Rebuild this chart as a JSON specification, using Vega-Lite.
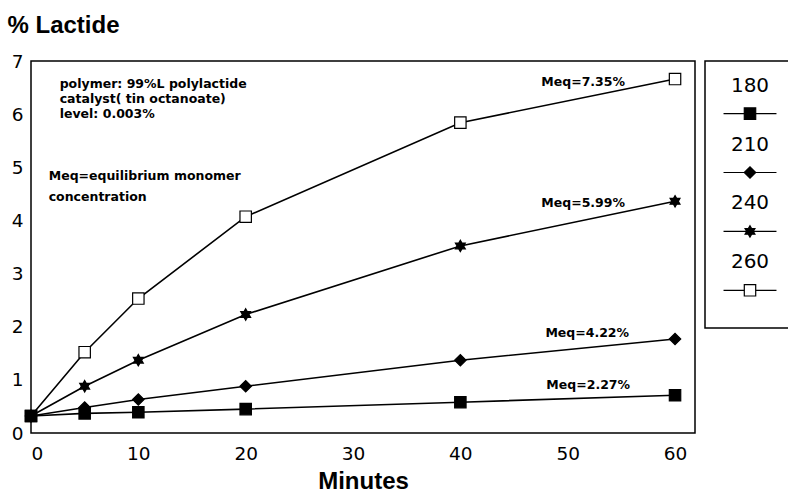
{
  "$schema": "https://vega.github.io/schema/vega-lite/v6.json",
  "background": "white",
  "autosize": {"type": "pad"},
  "padding": {"left": 6, "top": 12, "right": 0, "bottom": 0},
  "config": {
    "view": {"stroke": "black", "strokeWidth": 1.5},
    "axis": {"grid": false, "domain": false, "ticks": false, "labelFont": "DejaVu Sans", "labelFontSize": 18.5, "labelColor": "black", "titleColor": "black"}
  },
  "datasets": {
    "series": [
      {"series": "260", "minutes": 0, "lactide": 0.32},
      {"series": "260", "minutes": 5, "lactide": 1.52},
      {"series": "260", "minutes": 10, "lactide": 2.53},
      {"series": "260", "minutes": 20, "lactide": 4.07},
      {"series": "260", "minutes": 40, "lactide": 5.84},
      {"series": "260", "minutes": 60, "lactide": 6.66},
      {"series": "240", "minutes": 0, "lactide": 0.32},
      {"series": "240", "minutes": 5, "lactide": 0.88},
      {"series": "240", "minutes": 10, "lactide": 1.37},
      {"series": "240", "minutes": 20, "lactide": 2.23},
      {"series": "240", "minutes": 40, "lactide": 3.52},
      {"series": "240", "minutes": 60, "lactide": 4.36},
      {"series": "210", "minutes": 0, "lactide": 0.32},
      {"series": "210", "minutes": 5, "lactide": 0.48},
      {"series": "210", "minutes": 10, "lactide": 0.63},
      {"series": "210", "minutes": 20, "lactide": 0.88},
      {"series": "210", "minutes": 40, "lactide": 1.37},
      {"series": "210", "minutes": 60, "lactide": 1.77},
      {"series": "180", "minutes": 0, "lactide": 0.32},
      {"series": "180", "minutes": 5, "lactide": 0.37},
      {"series": "180", "minutes": 10, "lactide": 0.39},
      {"series": "180", "minutes": 20, "lactide": 0.45},
      {"series": "180", "minutes": 40, "lactide": 0.58},
      {"series": "180", "minutes": 60, "lactide": 0.71}
    ],
    "notes": [
      {"minutes": 2.67, "lactide": 6.575, "label": "polymer: 99%L polylactide"},
      {"minutes": 2.67, "lactide": 6.293, "label": "catalyst( tin octanoate)"},
      {"minutes": 2.67, "lactide": 6.011, "label": "level: 0.003%"},
      {"minutes": 1.65, "lactide": 4.831, "label": "Meq=equilibrium monomer"},
      {"minutes": 1.65, "lactide": 4.441, "label": "concentration"}
    ],
    "meq": [
      {"minutes": 55.34, "lactide": 6.605, "label": "Meq=7.35%"},
      {"minutes": 55.34, "lactide": 4.323, "label": "Meq=5.99%"},
      {"minutes": 55.72, "lactide": 1.886, "label": "Meq=4.22%"},
      {"minutes": 55.81, "lactide": 0.907, "label": "Meq=2.27%"}
    ],
    "legend": [
      {"series": "180", "order": 0},
      {"series": "210", "order": 1},
      {"series": "240", "order": 2},
      {"series": "260", "order": 3}
    ]
  },
  "spacing": 10,
  "bounds": "flush",
  "hconcat": [
    {
      "width": 664,
      "height": 372,
      "encoding": {
        "x": {
          "field": "minutes", "type": "quantitative",
          "scale": {"domain": [0, 61.86], "nice": false, "zero": false},
          "axis": {"values": [0, 10, 20, 30, 40, 50, 60], "labelPadding": 11, "title": "Minutes", "titleFont": "Liberation Sans", "titleFontSize": 24, "titleFontWeight": "bold", "titlePadding": 7}
        },
        "y": {
          "field": "lactide", "type": "quantitative",
          "scale": {"domain": [0, 7], "nice": false},
          "axis": {"values": [0, 1, 2, 3, 4, 5, 6, 7], "labelPadding": 8, "title": "% Lactide", "titleAngle": 0, "titleX": -24, "titleY": -28.7, "titleAlign": "left", "titleBaseline": "alphabetic", "titleFont": "Liberation Sans", "titleFontSize": 24, "titleFontWeight": "bold"}
        }
      },
      "layer": [
        {
          "data": {"name": "series"},
          "mark": {"type": "line", "color": "black", "strokeWidth": 1.6},
          "encoding": {"detail": {"field": "series", "type": "nominal"}}
        },
        {
          "data": {"name": "series"},
          "mark": {"type": "point", "filled": true, "stroke": "black", "strokeWidth": 1.2, "opacity": 1, "size": 130},
          "encoding": {
            "shape": {"field": "series", "type": "nominal", "scale": {"domain": ["180", "210", "240", "260"], "range": ["square", "diamond", "M0,-1L0.866,0.5L-0.866,0.5Z M0,1L-0.866,-0.5L0.866,-0.5Z", "square"]}, "legend": null},
            "fill": {"field": "series", "type": "nominal", "scale": {"domain": ["180", "210", "240", "260"], "range": ["black", "black", "black", "white"]}, "legend": null}
          }
        },
        {
          "data": {"name": "notes"},
          "mark": {"type": "text", "align": "left", "baseline": "middle", "font": "DejaVu Sans", "fontWeight": "bold", "fontSize": 12.5, "color": "black"},
          "encoding": {"text": {"field": "label"}}
        },
        {
          "data": {"name": "meq"},
          "mark": {"type": "text", "align": "right", "baseline": "middle", "font": "DejaVu Sans", "fontWeight": "bold", "fontSize": 12.5, "color": "black"},
          "encoding": {"text": {"field": "label"}}
        }
      ]
    },
    {
      "width": 90,
      "height": 267,
      "data": {"name": "legend"},
      "encoding": {
        "y": {"field": "order", "type": "quantitative", "scale": {"domain": [-0.893, 3.64], "reverse": true, "nice": false, "zero": false}, "axis": null}
      },
      "layer": [
        {
          "mark": {"type": "rule", "color": "black", "strokeWidth": 1.2},
          "encoding": {
            "x": {"datum": -1, "type": "quantitative", "scale": {"domain": [-1.7, 1.7], "nice": false, "zero": false}, "axis": null},
            "x2": {"datum": 1}
          }
        },
        {
          "mark": {"type": "point", "filled": true, "stroke": "black", "strokeWidth": 1.2, "opacity": 1, "size": 130},
          "encoding": {
            "x": {"datum": 0, "type": "quantitative"},
            "shape": {"field": "series", "type": "nominal", "scale": {"domain": ["180", "210", "240", "260"], "range": ["square", "diamond", "M0,-1L0.866,0.5L-0.866,0.5Z M0,1L-0.866,-0.5L0.866,-0.5Z", "square"]}, "legend": null},
            "fill": {"field": "series", "type": "nominal", "scale": {"domain": ["180", "210", "240", "260"], "range": ["black", "black", "black", "white"]}, "legend": null}
          }
        },
        {
          "mark": {"type": "text", "dy": -28, "baseline": "middle", "align": "center", "font": "DejaVu Sans", "fontSize": 20, "color": "black"},
          "encoding": {
            "x": {"datum": 0, "type": "quantitative"},
            "text": {"field": "series"}
          }
        }
      ]
    }
  ]
}
